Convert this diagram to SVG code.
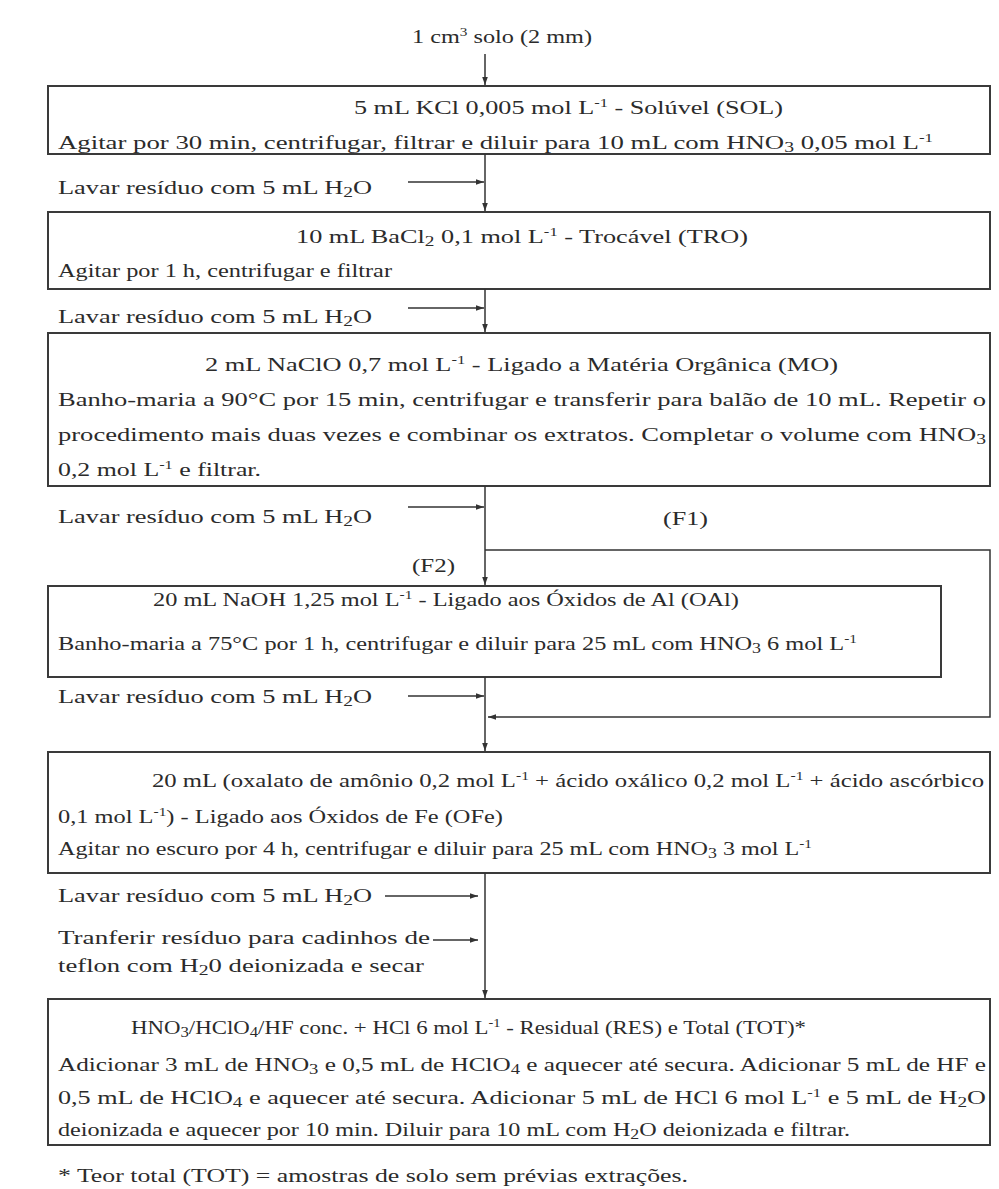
<svg xmlns="http://www.w3.org/2000/svg" width="999" height="1189" viewBox="0 0 999 1189">
<defs>
<marker id="ah" viewBox="0 0 10 10" refX="10" refY="5" markerWidth="8" markerHeight="8" markerUnits="userSpaceOnUse" orient="auto">
<path d="M0,1.5 L10,5 L0,8.5 z" fill="#333"/>
</marker>
<style>
.t{font-family:"Liberation Serif","Times New Roman",serif;font-size:19px;fill:#2b2b2b}
.sup{font-size:12px;baseline-shift:7px}
.sub{font-size:14px;baseline-shift:-3px}
.box{fill:none;stroke:#3a3a3a;stroke-width:2}
.ln{fill:none;stroke:#333;stroke-width:1.5}
</style>
</defs>
<rect width="999" height="1189" fill="#ffffff"/>

<g id="n-start">
<text class="t" x="412" y="43" textLength="180" lengthAdjust="spacingAndGlyphs">1 cm<tspan class="sup">3</tspan> solo (2 mm)</text>
</g>

<g id="n-sol">
<rect class="box" x="48" y="86" width="942" height="68"/>
<text class="t" x="354" y="114" textLength="429" lengthAdjust="spacingAndGlyphs">5 mL KCl 0,005 mol L<tspan class="sup">-1</tspan> - Solúvel (SOL)</text>
<text class="t" x="58" y="149" textLength="875" lengthAdjust="spacingAndGlyphs">Agitar por 30 min, centrifugar, filtrar e diluir para 10 mL com HNO<tspan class="sub">3</tspan> 0,05 mol L<tspan class="sup">-1</tspan></text>
</g>

<g id="n-tro">
<rect class="box" x="48" y="212" width="942" height="77"/>
<text class="t" x="296" y="243" textLength="452" lengthAdjust="spacingAndGlyphs">10 mL BaCl<tspan class="sub">2</tspan> 0,1 mol L<tspan class="sup">-1</tspan> - Trocável (TRO)</text>
<text class="t" x="58" y="277" textLength="334" lengthAdjust="spacingAndGlyphs">Agitar por 1 h, centrifugar e filtrar</text>
</g>

<g id="n-mo">
<rect class="box" x="48" y="333" width="942" height="153"/>
<text class="t" x="205" y="371" textLength="633" lengthAdjust="spacingAndGlyphs">2 mL NaClO 0,7 mol L<tspan class="sup">-1</tspan> - Ligado a Matéria Orgânica (MO)</text>
<text class="t" x="58" y="406" textLength="928" lengthAdjust="spacingAndGlyphs">Banho-maria a 90°C por 15 min, centrifugar e transferir para balão de 10 mL. Repetir o</text>
<text class="t" x="58" y="441" textLength="928" lengthAdjust="spacingAndGlyphs">procedimento mais duas vezes e combinar os extratos. Completar o volume com HNO<tspan class="sub">3</tspan></text>
<text class="t" x="58" y="476" textLength="203" lengthAdjust="spacingAndGlyphs">0,2 mol L<tspan class="sup">-1</tspan> e filtrar.</text>
</g>

<g id="n-oal">
<rect class="box" x="48" y="586" width="893" height="91"/>
<text class="t" x="153" y="606" textLength="586" lengthAdjust="spacingAndGlyphs">20 mL NaOH 1,25 mol L<tspan class="sup">-1</tspan> - Ligado aos Óxidos de Al (OAl)</text>
<text class="t" x="58" y="650" textLength="799" lengthAdjust="spacingAndGlyphs">Banho-maria a 75°C por 1 h, centrifugar e diluir para 25 mL com HNO<tspan class="sub">3</tspan> 6 mol L<tspan class="sup">-1</tspan></text>
</g>

<g id="n-ofe">
<rect class="box" x="48" y="752" width="942" height="121"/>
<text class="t" x="152" y="787" textLength="832" lengthAdjust="spacingAndGlyphs">20 mL (oxalato de amônio 0,2 mol L<tspan class="sup">-1</tspan> + ácido oxálico 0,2 mol L<tspan class="sup">-1</tspan> + ácido ascórbico</text>
<text class="t" x="58" y="823" textLength="445" lengthAdjust="spacingAndGlyphs">0,1 mol L<tspan class="sup">-1</tspan>) - Ligado aos Óxidos de Fe (OFe)</text>
<text class="t" x="58" y="855" textLength="754" lengthAdjust="spacingAndGlyphs">Agitar no escuro por 4 h, centrifugar e diluir para 25 mL com HNO<tspan class="sub">3</tspan> 3 mol L<tspan class="sup">-1</tspan></text>
</g>

<g id="n-res">
<rect class="box" x="48" y="999" width="942" height="146"/>
<text class="t" x="131" y="1034" textLength="675" lengthAdjust="spacingAndGlyphs">HNO<tspan class="sub">3</tspan>/HClO<tspan class="sub">4</tspan>/HF conc. + HCl 6 mol L<tspan class="sup">-1</tspan> - Residual (RES) e Total (TOT)*</text>
<text class="t" x="58" y="1071" textLength="928" lengthAdjust="spacingAndGlyphs">Adicionar 3 mL de HNO<tspan class="sub">3</tspan> e 0,5 mL de HClO<tspan class="sub">4</tspan> e aquecer até secura. Adicionar 5 mL de HF e</text>
<text class="t" x="58" y="1104" textLength="928" lengthAdjust="spacingAndGlyphs">0,5 mL de HClO<tspan class="sub">4</tspan> e aquecer até secura. Adicionar 5 mL de HCl 6 mol L<tspan class="sup">-1</tspan> e 5 mL de H<tspan class="sub">2</tspan>O</text>
<text class="t" x="58" y="1136" textLength="792" lengthAdjust="spacingAndGlyphs">deionizada e aquecer por 10 min. Diluir para 10 mL com H<tspan class="sub">2</tspan>O deionizada e filtrar.</text>
</g>

<g id="labels">
<text class="t" x="58" y="194" textLength="314" lengthAdjust="spacingAndGlyphs">Lavar resíduo com 5 mL H<tspan class="sub">2</tspan>O</text>
<text class="t" x="58" y="323" textLength="314" lengthAdjust="spacingAndGlyphs">Lavar resíduo com 5 mL H<tspan class="sub">2</tspan>O</text>
<text class="t" x="58" y="523" textLength="314" lengthAdjust="spacingAndGlyphs">Lavar resíduo com 5 mL H<tspan class="sub">2</tspan>O</text>
<text class="t" x="663" y="525" textLength="45" lengthAdjust="spacingAndGlyphs">(F1)</text>
<text class="t" x="412" y="572" textLength="43" lengthAdjust="spacingAndGlyphs">(F2)</text>
<text class="t" x="58" y="703" textLength="314" lengthAdjust="spacingAndGlyphs">Lavar resíduo com 5 mL H<tspan class="sub">2</tspan>O</text>
<text class="t" x="58" y="902" textLength="314" lengthAdjust="spacingAndGlyphs">Lavar resíduo com 5 mL H<tspan class="sub">2</tspan>O</text>
<text class="t" x="58" y="944" textLength="372" lengthAdjust="spacingAndGlyphs">Tranferir resíduo para cadinhos de</text>
<text class="t" x="58" y="972" textLength="366" lengthAdjust="spacingAndGlyphs">teflon com H<tspan class="sub">2</tspan>0 deionizada e secar</text>
</g>

<g id="connectors">
<line class="ln" x1="485" y1="54" x2="485" y2="85" marker-end="url(#ah)"/>
<line class="ln" x1="485" y1="154" x2="485" y2="211" marker-end="url(#ah)"/>
<line class="ln" x1="408" y1="182" x2="484" y2="182" marker-end="url(#ah)"/>
<line class="ln" x1="485" y1="289" x2="485" y2="332" marker-end="url(#ah)"/>
<line class="ln" x1="408" y1="308" x2="484" y2="308" marker-end="url(#ah)"/>
<line class="ln" x1="485" y1="486" x2="485" y2="585" marker-end="url(#ah)"/>
<line class="ln" x1="408" y1="507" x2="484" y2="507" marker-end="url(#ah)"/>
<path class="ln" d="M485,550 H990 V717 H488" marker-end="url(#ah)"/>
<line class="ln" x1="485" y1="677" x2="485" y2="751" marker-end="url(#ah)"/>
<line class="ln" x1="408" y1="696" x2="484" y2="696" marker-end="url(#ah)"/>
<line class="ln" x1="485" y1="873" x2="485" y2="998" marker-end="url(#ah)"/>
<line class="ln" x1="385" y1="896" x2="478" y2="896" marker-end="url(#ah)"/>
<line class="ln" x1="433" y1="940" x2="478" y2="940" marker-end="url(#ah)"/>
</g>

<g id="footnote">
<text class="t" x="58" y="1182" textLength="630" lengthAdjust="spacingAndGlyphs">* Teor total (TOT) = amostras de solo sem prévias extrações.</text>
</g>
</svg>
